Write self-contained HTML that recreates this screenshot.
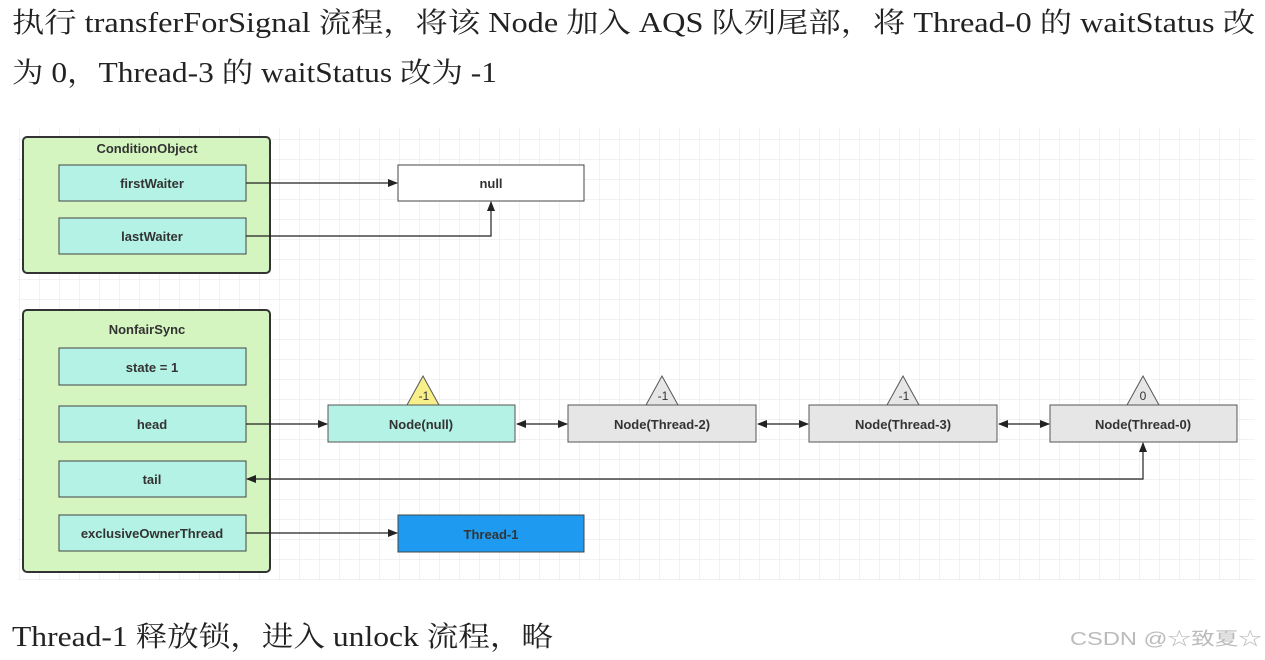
<!DOCTYPE html>
<html><head><meta charset="utf-8"><style>
html,body{margin:0;padding:0;background:#fff;}
svg{display:block;}
.t{font-family:"Liberation Serif","Noto Serif CJK SC","Noto Sans CJK SC",serif;font-size:28px;fill:#222;}
.b{font-family:"Liberation Sans",sans-serif;font-size:13px;font-weight:bold;fill:#333;text-anchor:middle;}
</style></head><body>
<svg width="1265" height="660" viewBox="0 0 1265 660" xmlns="http://www.w3.org/2000/svg">
<defs>
<pattern id="g" width="20" height="20" patternUnits="userSpaceOnUse">
<path d="M20 0V20M0 20H20" stroke="#e6e6e6" stroke-width="1" fill="none"/>
</pattern>
<marker id="a" markerWidth="10" markerHeight="10" refX="9" refY="5" orient="auto" markerUnits="userSpaceOnUse">
<path d="M0 1L10 5L0 9Z" fill="#222"/></marker>
<marker id="s" markerWidth="10" markerHeight="10" refX="1" refY="5" orient="auto" markerUnits="userSpaceOnUse">
<path d="M10 1L0 5L10 9Z" fill="#222"/></marker>
</defs>
<rect width="1265" height="660" fill="#fff"/>
<rect x="18" y="128" width="1237" height="452" fill="url(#g)"/>
<text class="t" x="12" y="32" textLength="1243" lengthAdjust="spacingAndGlyphs">执行 transferForSignal 流程，将该 Node 加入 AQS 队列尾部，将 Thread-0 的 waitStatus 改</text>
<text class="t" x="12" y="82" textLength="485" lengthAdjust="spacingAndGlyphs">为 0，Thread-3 的 waitStatus 改为 -1</text>

<!-- ConditionObject -->
<rect x="23" y="137" width="247" height="136" rx="4" fill="#d4f5bf" stroke="#333" stroke-width="2"/>
<text class="b" x="147" y="153">ConditionObject</text>
<rect x="59" y="165" width="187" height="36" fill="#b3f2e4" stroke="#444"/>
<text class="b" x="152" y="188">firstWaiter</text>
<rect x="59" y="218" width="187" height="36" fill="#b3f2e4" stroke="#444"/>
<text class="b" x="152" y="241">lastWaiter</text>
<rect x="398" y="165" width="186" height="36" fill="#fff" stroke="#444"/>
<text class="b" x="491" y="188">null</text>
<path d="M246 183H397" stroke="#222" stroke-width="1.2" fill="none" marker-end="url(#a)"/>
<path d="M246 236H491V202" stroke="#222" stroke-width="1.2" fill="none" marker-end="url(#a)"/>

<!-- NonfairSync -->
<rect x="23" y="310" width="247" height="262" rx="4" fill="#d4f5bf" stroke="#333" stroke-width="2"/>
<text class="b" x="147" y="334">NonfairSync</text>
<rect x="59" y="348" width="187" height="37" fill="#b3f2e4" stroke="#444"/>
<text class="b" x="152" y="372">state = 1</text>
<rect x="59" y="406" width="187" height="36" fill="#b3f2e4" stroke="#444"/>
<text class="b" x="152" y="429">head</text>
<rect x="59" y="461" width="187" height="36" fill="#b3f2e4" stroke="#444"/>
<text class="b" x="152" y="484">tail</text>
<rect x="59" y="515" width="187" height="36" fill="#b3f2e4" stroke="#444"/>
<text class="b" x="152" y="538">exclusiveOwnerThread</text>

<!-- nodes -->
<rect x="328" y="405" width="187" height="37" fill="#b3f2e4" stroke="#555"/>
<text class="b" x="421" y="429">Node(null)</text>
<rect x="568" y="405" width="188" height="37" fill="#e6e6e6" stroke="#555"/>
<text class="b" x="662" y="429">Node(Thread-2)</text>
<rect x="809" y="405" width="188" height="37" fill="#e6e6e6" stroke="#555"/>
<text class="b" x="903" y="429">Node(Thread-3)</text>
<rect x="1050" y="405" width="187" height="37" fill="#e6e6e6" stroke="#555"/>
<text class="b" x="1143" y="429">Node(Thread-0)</text>

<path d="M407 405L423 376L439 405Z" fill="#f7f08a" stroke="#555"/>
<text class="b" x="424" y="400" style="font-size:12px;font-weight:normal">-1</text>
<path d="M646 405L662 376L678 405Z" fill="#e6e6e6" stroke="#555"/>
<text class="b" x="663" y="400" style="font-size:12px;font-weight:normal">-1</text>
<path d="M887 405L903 376L919 405Z" fill="#e6e6e6" stroke="#555"/>
<text class="b" x="904" y="400" style="font-size:12px;font-weight:normal">-1</text>
<path d="M1127 405L1143 376L1159 405Z" fill="#e6e6e6" stroke="#555"/>
<text class="b" x="1143" y="400" style="font-size:12px;font-weight:normal">0</text>

<path d="M246 424H327" stroke="#222" stroke-width="1.2" marker-end="url(#a)"/>
<path d="M517 424H567" stroke="#222" stroke-width="1.2" marker-start="url(#s)" marker-end="url(#a)"/>
<path d="M758 424H808" stroke="#222" stroke-width="1.2" marker-start="url(#s)" marker-end="url(#a)"/>
<path d="M999 424H1049" stroke="#222" stroke-width="1.2" marker-start="url(#s)" marker-end="url(#a)"/>
<path d="M1143 443V479H247" stroke="#222" stroke-width="1.2" fill="none" marker-start="url(#s)" marker-end="url(#a)"/>

<rect x="398" y="515" width="186" height="37" fill="#1e9bf0" stroke="#444"/>
<text class="b" x="491" y="539">Thread-1</text>
<path d="M246 533H397" stroke="#222" stroke-width="1.2" marker-end="url(#a)"/>

<text class="t" x="12" y="646" textLength="541" lengthAdjust="spacingAndGlyphs">Thread-1 释放锁，进入 unlock 流程，略</text>
<text x="1070" y="645" style="font-family:'Liberation Sans','Noto Sans CJK SC',sans-serif;font-size:18px;fill:#bbb" textLength="192" lengthAdjust="spacingAndGlyphs">CSDN @☆致夏☆</text>
</svg>
</body></html>
